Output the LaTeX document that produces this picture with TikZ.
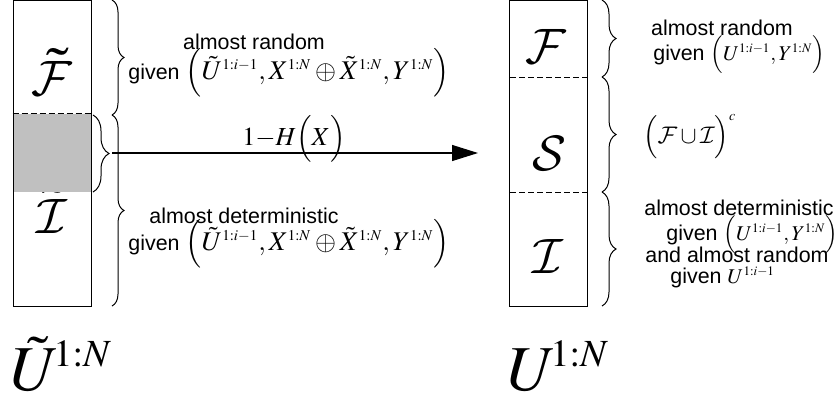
\documentclass[tikz,border=0pt]{standalone}
\usepackage{mathptmx}
\DeclareMathAlphabet{\mathcal}{OMS}{cmsy}{m}{n}
\DeclareMathSizes{13.5}{13.5}{7.5}{5.5}
\DeclareMathSizes{13}{13}{7.5}{5.5}
\DeclareMathSizes{12}{12}{7}{5}
\DeclareMathSizes{10.5}{10.5}{6.5}{5}
\usepackage[no-math]{fontspec}
\setmainfont{Liberation Sans}
\usetikzlibrary{arrows.meta,positioning,calc,decorations.pathreplacing}
\definecolor{shade}{HTML}{C0C0C0}
\newcommand{\mth}[2][13]{{\fontsize{#1}{#1}\selectfont$#2$}}

\begin{document}
\begin{tikzpicture}[x=0.5pt, y=-0.5pt,
  column/.style={rectangle, draw, line width=0.5pt, minimum width=39pt, minimum height=153pt, inner sep=0pt},
  setname/.style={inner sep=0pt, anchor=base, font=\fontsize{34}{36}\selectfont},
  seqname/.style={inner sep=0pt, anchor=base west, font=\fontsize{32}{34}\selectfont},
  note/.style={inner sep=0pt, anchor=base, font=\fontsize{10.7}{12}\selectfont},
  notel/.style={note, anchor=base west},
  cut/.style={dash pattern=on 3pt off 1.5pt, line width=0.5pt},
  bracel/.style={decorate, decoration={brace, amplitude=#1}, line width=0.5pt},
  arrow/.style={-{Triangle[length=13pt, width=8pt]}, line width=0.6pt}
]
\useasboundingbox (0,0) rectangle (839,398);

% left column
\node[setname] (Ft) at (52,95) {$\tilde{\mathcal{F}}$};
\node[setname] (It) at (52,233) {$\tilde{\mathcal{I}}$};
\node[fill=shade, minimum width=39pt, minimum height=39pt, inner sep=0pt] (ishade) at (52,153) {};
\node[column] (ubox) at (52,153) {};
\draw[cut] (ishade.north west) -- (ishade.north east);

% right column
\node[column] (rbox) at (548.5,153) {};
\node[setname] (F) at (546,63) {$\mathcal{F}$};
\node[setname] (S) at (549,170) {$\mathcal{S}$};
\node[setname] (I) at (548,273) {$\mathcal{I}$};
\coordinate (cutA) at (510,77);
\coordinate (cutB) at (510,192);
\draw[cut] (cutA) -- (cutA -| rbox.east);
\draw[cut] (cutB) -- (cutB -| rbox.east);

% braces
\coordinate (lb0) at (112,0);
\coordinate (lb1) at (112,115);
\coordinate (lb2) at (112,306);
\coordinate (sb0) at (93,115);
\coordinate (sb1) at (93,192);
\coordinate (rb0) at (602,0);
\coordinate (rb1) at (602,77);
\coordinate (rb2) at (602,192);
\coordinate (rb3) at (602,306);
\draw[bracel=6pt] (lb0) -- (lb1);
\draw[bracel=6pt] (lb1) -- (lb2);
\draw[bracel=8pt] (sb0) -- (sb1);
\draw[bracel=7pt] (rb0) -- (rb1);
\draw[bracel=7pt] (rb1) -- (rb2);
\draw[bracel=7pt] (rb2) -- (rb3);

% transfer arrow
\coordinate (sbtip) at (112,153);
\coordinate (arrEnd) at (478,153);
\draw[arrow] (sbtip) -- (arrEnd);
\node[note] (hx) at (294,145) {\mth{1{-}H\Bigl(X\Bigr)}};

% left notes
\node[note] (lr1) at (254,49) {almost random};
\node[notel] (lg1) at (128,79) {given \mth[13.5]{\Bigl(\tilde U^{1:i-1}, X^{1:N}\oplus\tilde X^{1:N}, Y^{1:N}\Bigr)}};
\node[note] (ld1) at (244,223) {almost deterministic};
\node[notel] (lg2) at (128,250) {given \mth[13.5]{\Bigl(\tilde U^{1:i-1}, X^{1:N}\oplus\tilde X^{1:N}, Y^{1:N}\Bigr)}};

% right notes
\node[note] (rr1) at (722,35) {almost random};
\node[notel] (rg1) at (653,60) {given \mth[10.5]{\Bigl(U^{1:i-1},Y^{1:N}\Bigr)}};
\node[notel] (rc) at (643,143) {\mth[12]{\Bigl(\mathcal{F}\cup\mathcal{I}\Bigr)^{c}}};
\node[note] (rd1) at (739,215) {almost deterministic};
\node[notel] (rd2) at (666,240) {given \mth[10.5]{\Bigl(U^{1:i-1},Y^{1:N}\Bigr)}};
\node[note] (rd3) at (737,262) {and almost random};
\node[notel] (rd4) at (670,283) {given \mth[10.5]{U^{1:i-1}}};

% sequence names
\node[seqname] (Ut) at (10,390) {$\tilde U^{\kern-3pt\scriptscriptstyle 1:N}$};
\node[seqname] (U) at (507,390) {$U^{\kern-3pt\scriptscriptstyle 1:N}$};
\end{tikzpicture}
\end{document}
